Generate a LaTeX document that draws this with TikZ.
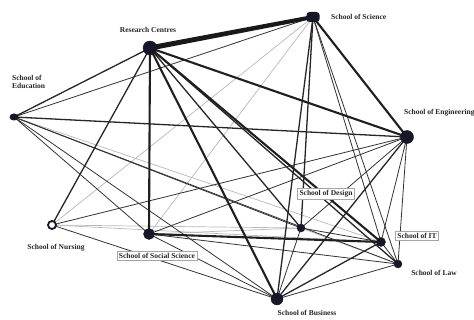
\documentclass[tikz,border=0pt]{standalone}
\usepackage{fontspec}
\usetikzlibrary{shapes.geometric,calc}
\setmainfont{Liberation Serif}
\begin{document}
\begin{tikzpicture}[x=1pt,y=-1pt,
  vert/.style={circle,fill=vnode,draw=vnode,inner sep=0pt,minimum size=#1},
  lbl/.style={font=\fontsize{7.5}{8}\selectfont\bfseries,text=black!85,inner sep=1pt},
  boxlbl/.style={lbl,draw=gray!70,fill=white,line width=0.7pt,inner sep=2pt},
  wb/.style={line width=2.1pt,draw=black!88},
  wc/.style={line width=1.3pt,draw=black!85},
  wd/.style={line width=0.8pt,draw=black!80},
  we/.style={line width=0.7pt,draw=gray!55},
  line cap=round]
\definecolor{vnode}{RGB}{22,24,40}
\useasboundingbox (0,0) rectangle (474,320);
\fill[white] (0,0) rectangle (474,320);

% vertex positions
\coordinate (rc) at (150,48);
\coordinate (sci) at (313,17);
\coordinate (eng) at (407,137);
\coordinate (edu) at (14,117);
\coordinate (nur) at (52,225);
\coordinate (soc) at (149,234);
\coordinate (des) at (301,228);
\coordinate (it) at (381,242);
\coordinate (law) at (398,264);
\coordinate (bus) at (277,299);

% links, weighted by line width
\draw[we] (sci) -- (nur);
\draw[we] (edu) -- (it);
\draw[we] (nur) -- (des);
\draw[we] (nur) -- (it);
\draw[we] (soc) -- (des);
\draw[we] (des) -- (law);
\draw[we] (sci) -- (soc);
\draw[wd] (sci) -- (it);
\draw[wd] (sci) -- (law);
\draw[wd] (sci) -- (edu);
\draw[wd] (eng) -- (nur);
\draw[wd] (eng) -- (soc);
\draw[wd] (eng) -- (des);
\draw[wd] (eng) -- (it);
\draw[wd] (eng) -- (law);
\draw[wd] (edu) -- (des);
\draw[wd] (edu) -- (law);
\draw[wd] (edu) -- (bus);
\draw[wd] (edu) -- (soc);
\draw[wd] (nur) -- (bus);
\draw[wd] (soc) -- (law);
\draw[wd] (soc) -- (bus);
\draw[wd] (des) -- (bus);
\draw[wd] (des) -- (it);
\draw[wd] (bus) -- (law);
\draw[wd] (it) -- (law);
\draw[wc] (rc) -- (edu);
\draw[wc] (rc) -- (nur);
\draw[wc] (rc) -- (des);
\draw[wc] (rc) -- (law);
\draw[wc] (sci) -- (bus);
\draw[wc] (sci) -- (des);
\draw[wc] (eng) -- (edu);
\draw[wc] (eng) -- (bus);
\draw[wc] (bus) -- (it);
\draw[wb] (rc) -- (eng);
\draw[wb] (rc) -- (it);
\draw[wb] (rc) -- (soc);
\draw[wb] (rc) -- (bus);
\draw[wb] (sci) -- (eng);
\draw[wb] (soc) -- (it);
% strongest link, drawn as a filled band
\fill[black!90] ($(rc)!2.6pt!90:(sci)$) -- ($(sci)!2pt!-90:(rc)$)
  -- ($(sci)!2pt!90:(rc)$) -- ($(rc)!2.6pt!-90:(sci)$) -- cycle;

% vertices
\node[vert=14pt] (nrc) at (rc) {};
\node[fill=vnode,rounded corners=3pt,minimum width=13pt,minimum height=10pt,inner sep=0pt] (nsci) at (sci) {};
\node[vert=13pt] (neng) at (eng) {};
\node[ellipse,fill=vnode,minimum width=9pt,minimum height=7pt,inner sep=0pt] (nedu) at (edu) {};
\node[circle,draw=vnode,fill=white,line width=1.8pt,minimum size=8pt,inner sep=0pt] (nnur) at (nur) {};
\node[vert=11pt] (nsoc) at (soc) {};
\node[vert=8pt] (ndes) at (des) {};
\node[vert=9pt] (nit) at (it) {};
\node[vert=8pt] (nlaw) at (law) {};
\node[vert=12pt] (nbus) at (bus) {};

% labels
\node[lbl] (lrc) at (148,30) {Research Centres};
\node[lbl,anchor=west] (lsci) at (330,17) {School of Science};
\node[lbl,anchor=west] (leng) at (403,113) {School of Engineering};
\node[lbl,anchor=west,align=left] (ledu) at (11,82) {School of\\Education};
\node[lbl] (lnur) at (56,248) {School of Nursing};
\node[boxlbl] (lsoc) at (157,256) {School of Social Science};
\node[boxlbl] (ldes) at (326,194) {School of Design};
\node[boxlbl] (lit) at (417,236) {School of IT};
\node[lbl] (llaw) at (434,273) {School of Law};
\node[lbl] (lbus) at (307,313) {School of Business};
\end{tikzpicture}
\end{document}
